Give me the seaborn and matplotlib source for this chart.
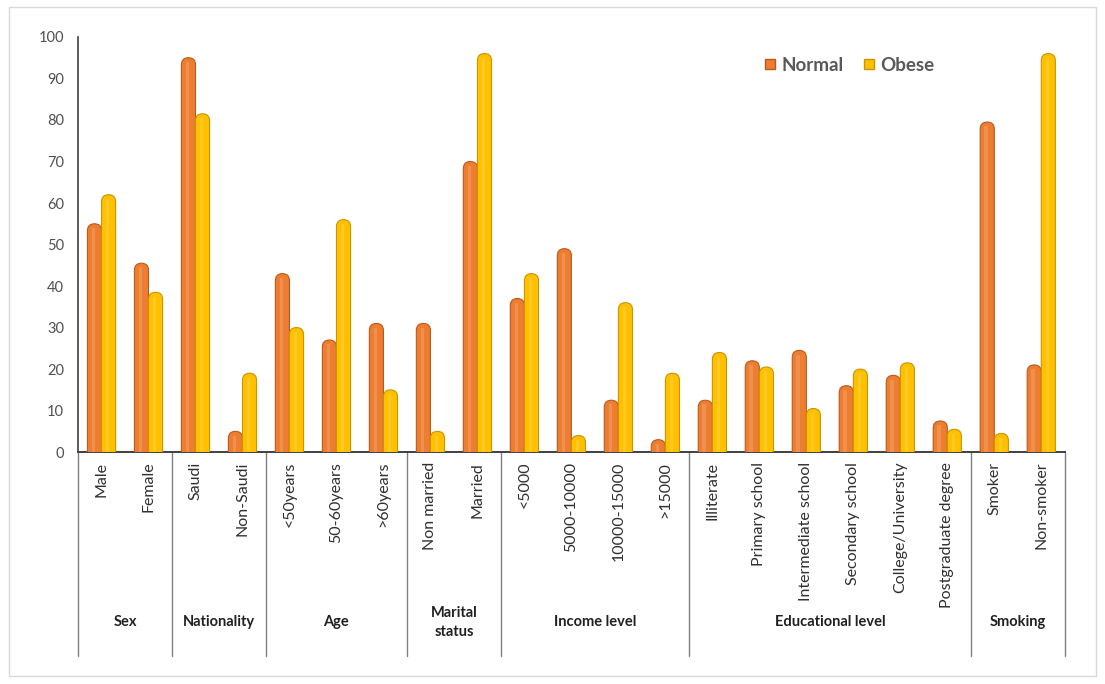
import numpy as np
import pandas as pd
import seaborn as sns
from matplotlib import pyplot as plt
from matplotlib.patches import Rectangle, FancyBboxPatch
from matplotlib.lines import Line2D

categories = ['Male', 'Female', 'Saudi', 'Non-Saudi', '<50years', '50-60years', '>60years',
              'Non married', 'Married', '<5000', '5000-10000', '10000-15000', '>15000',
              'Illiterate', 'Primary school', 'Intermediate school', 'Secondary school',
              'College/University', 'Postgraduate degree', 'Smoker', 'Non-smoker']
normal = [55, 45.5, 95, 5, 43, 27, 31, 31, 70, 37, 49, 12.5, 3, 12.5, 22, 24.5, 16, 18.5, 7.5, 79.5, 21]
obese = [62, 38.5, 81.5, 19, 30, 56, 15, 5, 96, 43, 4, 36, 19, 24, 20.5, 10.5, 20, 21.5, 5.5, 4.5, 96]
group_names = ['Sex', 'Nationality', 'Age', 'Marital\nstatus', 'Income level', 'Educational level', 'Smoking']
group_sizes = [2, 2, 3, 2, 4, 6, 2]

df = pd.DataFrame({
    'cat': categories * 2,
    'value': normal + obese,
    'weight': ['Normal'] * len(normal) + ['Obese'] * len(obese),
})
colors = {'Normal': '#ED7D31', 'Obese': '#FFC000'}
edges = {'Normal': '#B85A1B', 'Obese': '#C99500'}

sns.set_style('white')
plt.rcParams['font.family'] = ['Lato', 'DejaVu Sans']

fig = plt.figure(figsize=(11.05, 6.84), dpi=100)
ax = fig.add_axes([0.0706, 0.339, 0.893, 0.607])

sns.barplot(data=df, x='cat', y='value', hue='weight', palette=colors,
            width=0.6, gap=0.0, ax=ax, legend=False)

# rounded cylinder-like bars
ppx = ax.bbox.width / 21.0
ppy = ax.bbox.height / 100.0
for cont, name in zip(ax.containers, ['Normal', 'Obese']):
    for p in cont:
        x, w, h = p.get_x(), p.get_width(), p.get_height()
        p.set_visible(False)
        r = w / 2
        ry = r * ppx / ppy
        bar = FancyBboxPatch((x, -ry), w, h + ry, boxstyle=f'round,pad=0,rounding_size={r}',
                             mutation_aspect=ppx / ppy,
                             facecolor=colors[name], edgecolor=edges[name], linewidth=0.8,
                             clip_on=True, zorder=3)
        ax.add_patch(bar)
        hl = Rectangle((x + w * 0.3, 0), w * 0.25, max(h - ry * 0.6, 0), facecolor='white',
                       alpha=0.15, linewidth=0, zorder=4)
        ax.add_patch(hl)

ax.set_ylim(0, 100)
ax.set_xlim(-0.5, len(categories) - 0.5)
ax.set_yticks(np.arange(0, 101, 10))
ax.tick_params(axis='y', labelsize=10.5, colors='#505050', length=0, pad=10)
ax.set_xticks(range(len(categories)))
ax.set_xticklabels(categories, rotation=90, fontsize=11.5, va='top', color='#303030')
ax.tick_params(axis='x', length=0, pad=7)
ax.set_xlabel('')
ax.set_ylabel('')
for s in ['top', 'right']:
    ax.spines[s].set_visible(False)
ax.spines['left'].set_color('#404040')
ax.spines['bottom'].set_color('#404040')
ax.spines['left'].set_linewidth(1.2)
ax.spines['bottom'].set_linewidth(1.4)

# group separators and labels under the axis
trans = ax.get_xaxis_transform()
start = 0
bounds = [-0.5]
for name, n in zip(group_names, group_sizes):
    end = start + n
    ax.text((start + end - 1) / 2, -0.41, name, transform=trans, ha='center', va='center',
            fontsize=10.5, fontweight='bold', color='#202020', linespacing=1.5)
    bounds.append(end - 0.5)
    start = end
for b in bounds:
    ax.plot([b, b], [0, -0.49], transform=trans, color='#808080', lw=1, clip_on=False)

# legend
handles = [Line2D([], [], marker='s', ls='', markersize=7, markerfacecolor=colors[k],
                  markeredgecolor=edges[k]) for k in ['Normal', 'Obese']]
leg = ax.legend(handles, ['Normal', 'Obese'], loc='center left', bbox_to_anchor=(0.695, 0.932),
                ncol=2, frameon=False, handlelength=0.7, handletextpad=0.25, columnspacing=1.0,
                borderpad=0, borderaxespad=0, prop={'weight': 'bold', 'size': 13.5})
for t in leg.get_texts():
    t.set_color('#595959')

fig.patches.append(Rectangle((0.008, 0.012), 0.984, 0.978, transform=fig.transFigure,
                             fill=False, edgecolor='#d9d9d9', linewidth=1))

fig.savefig('out.png', dpi=100)
